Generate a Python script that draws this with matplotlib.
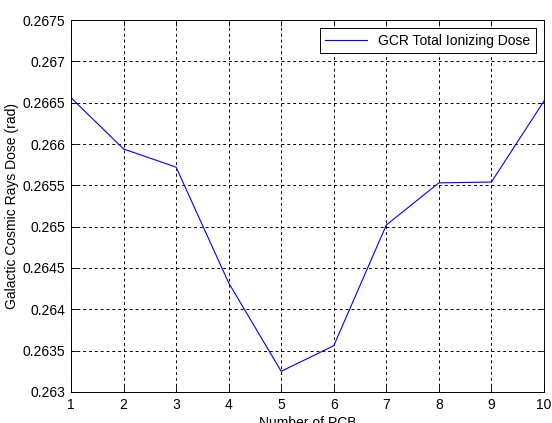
import matplotlib
matplotlib.use("Agg")
import matplotlib.pyplot as plt

# ── DATA ─────────────────────────────────────────────
pcb_count = [1, 2, 3, 4, 5, 6, 7, 8, 9, 10]
gcr_dose = [0.26656, 0.26594, 0.26572, 0.26432, 0.26325,
            0.26356, 0.26502, 0.26553, 0.26554, 0.26652]
y_ticks = [0.263, 0.2635, 0.264, 0.2645, 0.265, 0.2655,
           0.266, 0.2665, 0.267, 0.2675]
y_tick_labels = ["0.263", "0.2635", "0.264", "0.2645", "0.265", "0.2655",
                 "0.266", "0.2665", "0.267", "0.2675"]

plt.rcParams["font.family"] = ["Liberation Sans", "DejaVu Sans"]
plt.rcParams["font.size"] = 10

fig = plt.figure(figsize=(5.52, 4.23), dpi=100)
ax = fig.add_axes([0.1286, 0.0733, 0.8569, 0.8794])

ax.plot(pcb_count, gcr_dose, color="#0000ff", linewidth=0.8,
        label="GCR Total Ionizing Dose")

ax.set_xlim(1, 10)
ax.set_ylim(0.263, 0.2675)
ax.set_xticks(pcb_count)
ax.set_yticks(y_ticks)
ax.set_yticklabels(y_tick_labels)

ax.grid(True, color="black", linestyle=(0, (3, 3)), linewidth=0.7)
ax.tick_params(direction="in", top=True, right=True, length=4, width=0.6,
               pad=4)
for s in ax.spines.values():
    s.set_linewidth(0.7)

# label sits right at the bottom edge, as in the original export
ax.set_xlabel("Number of PCB", labelpad=3)
ax.set_ylabel("Galactic Cosmic Rays Dose (rad)", labelpad=3)

leg = ax.legend(loc="upper right", fancybox=False, framealpha=1,
                edgecolor="black", borderaxespad=0.6, handlelength=3.0,
                fontsize=10)
leg.get_frame().set_linewidth(0.7)

fig.savefig("out.png", dpi=100)
